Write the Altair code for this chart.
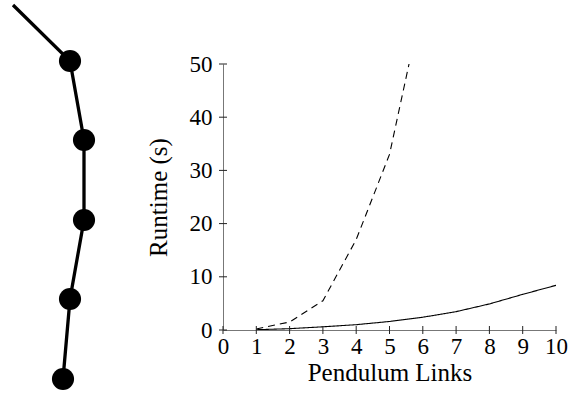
import altair as alt
import pandas as pd

# ---- runtime data ----
links_solid = [1, 2, 3, 4, 5, 6, 7, 8, 9, 10]
runtime_solid = [0.05, 0.25, 0.6, 1.0, 1.6, 2.4, 3.45, 4.9, 6.7, 8.4]
links_dashed = [1, 2, 3, 4, 5, 6]
runtime_dashed = [0.2, 1.5, 5.5, 17, 33, 62]

x_ticks = [0, 1, 2, 3, 4, 5, 6, 7, 8, 9, 10]
y_ticks = [0, 10, 20, 30, 40, 50]

# ---- pendulum sketch: pivot end then node centres (page units) ----
pend_x = [13, 70, 84, 84, 70, 63]
pend_y = [5, 61, 140, 220, 299, 379]

FONT = "Liberation Serif"

lines_df = pd.DataFrame({
    "links": links_solid + links_dashed,
    "runtime": runtime_solid + runtime_dashed,
    "method": ["solid"] * len(links_solid) + ["dashed"] * len(links_dashed),
})

xs = alt.Scale(domain=[0, 10], nice=False, zero=False)
ys = alt.Scale(domain=[0, 50], nice=False)

x_axis = alt.Axis(title="Pendulum Links", values=x_ticks, format="d", tickCount=11,
                  labelFlush=False, labelOverlap=False, ticks=False,
                  labelPadding=5, titlePadding=2, grid=False)
y_axis = alt.Axis(title="Runtime (s)", values=y_ticks, format="d",
                  labelOverlap=False, ticks=False,
                  labelPadding=11, titlePadding=18, grid=False)

lines = alt.Chart(lines_df).mark_line(color="black", strokeWidth=1.1, clip=True).encode(
    x=alt.X("links:Q", scale=xs, axis=x_axis),
    y=alt.Y("runtime:Q", scale=ys, axis=y_axis),
    strokeDash=alt.StrokeDash("method:N",
                              scale=alt.Scale(domain=["solid", "dashed"],
                                              range=[[1, 0], [7, 5]]),
                              legend=None),
)

xt = alt.Chart(pd.DataFrame({"links": x_ticks})).mark_rule(color="#222", strokeWidth=1).encode(
    x=alt.X("links:Q", scale=xs, axis=x_axis), y=alt.value(262), y2=alt.value(270))
yt = alt.Chart(pd.DataFrame({"runtime": y_ticks})).mark_rule(color="#222", strokeWidth=1).encode(
    y=alt.Y("runtime:Q", scale=ys, axis=y_axis), x=alt.value(-4), x2=alt.value(4))

plot = alt.layer(lines, xt, yt)

pend_df = pd.DataFrame({"px": pend_x, "py": pend_y, "k": list(range(len(pend_x)))})
px = alt.X("px:Q", scale=alt.Scale(domain=[223, 556], nice=False, zero=False), axis=None)
py = alt.Y("py:Q", scale=alt.Scale(domain=[64, 330], nice=False, zero=False, reverse=True), axis=None)

pend_links = alt.Chart(pend_df).mark_line(color="black", strokeWidth=3.3).encode(
    x=px, y=py, order="k:Q")
pend_nodes = alt.Chart(pend_df).transform_filter("datum.k >= 1").mark_circle(
    color="black", opacity=1, size=490).encode(x=px, y=py)

pend = alt.layer(pend_links, pend_nodes)

chart = alt.layer(plot, pend).resolve_scale(
    x="independent", y="independent"
).properties(
    width=333, height=266,
    padding={"left": 223, "top": 64, "right": 25, "bottom": 64},
    autosize=alt.AutoSizeParams(type="none"),
    background="white",
).configure_view(stroke=None).configure_axis(
    domainColor="#777", domainWidth=1,
    labelFont=FONT, labelFontSize=23, labelColor="black",
    titleFont=FONT, titleFontSize=25, titleFontWeight="normal", titleColor="black",
)

chart.save("out.html", embed_options={"renderer": "svg", "actions": False})
